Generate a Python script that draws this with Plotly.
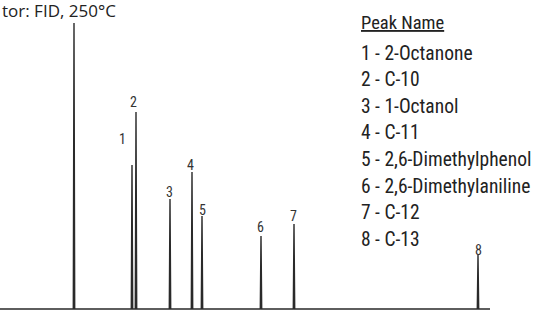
import plotly.graph_objects as go

# ---- data ----
peak_ids = ["S", "1", "2", "3", "4", "5", "6", "7", "8"]
ret_times = [1.48, 2.64, 2.72, 3.40, 3.84, 4.04, 5.22, 5.88, 9.56]   # min
heights = [286, 144, 197, 110, 137, 93, 73, 85, 54]                  # response
run_end = 9.8
peak_names = ["1 - 2-Octanone", "2 - C-10", "3 - 1-Octanol", "4 - C-11",
              "5 - 2,6-Dimethylphenol", "6 - 2,6-Dimethylaniline",
              "7 - C-12", "8 - C-13"]
title_text = "tor: FID, 250°C"

W, H = 533, 312
X_RANGE = [0, 10.66]
Y_RANGE = [-3, 309]
HALF_W = 0.014

# build chromatogram trace from peak list
xs, ys = [0.0], [0.0]
for t, h in zip(ret_times, heights):
    xs += [t - HALF_W, t, t + HALF_W]
    ys += [0.0, h, 0.0]
xs.append(run_end)
ys.append(0.0)

fig = go.Figure()
fig.add_trace(go.Scatter(x=xs, y=ys, mode="lines",
                         line=dict(color="#2a2a2a", width=1.4),
                         hoverinfo="skip", showlegend=False))

FONT = "Roboto Condensed, Liberation Sans Narrow, Roboto, sans-serif"

# peak number labels
label_offsets = {"1": (-0.2, 26), "2": (-0.06, 10), "3": (-0.02, 7),
                 "4": (-0.04, 7), "5": (0.0, 6), "6": (-0.02, 9),
                 "7": (-0.02, 8), "8": (0.0, 5)}
for pid, t, h in zip(peak_ids, ret_times, heights):
    if pid == "S":
        continue
    dx, dy = label_offsets[pid]
    fig.add_annotation(x=t + dx, y=h + dy, xref="x", yref="y", text=pid,
                       showarrow=False, xanchor="center", yanchor="middle",
                       font=dict(family=FONT, size=14, color="#333"))

# peak name table
TX = 359
fig.add_annotation(x=TX / W, y=1 - 23 / H, xref="paper", yref="paper",
                   text="<u>Peak Name</u>", showarrow=False,
                   xanchor="left", yanchor="middle",
                   font=dict(family=FONT, size=18.5, color="#222"))
for i, name in enumerate(peak_names):
    fig.add_annotation(x=TX / W, y=1 - (53 + 26.6 * i) / H,
                       xref="paper", yref="paper", text=name,
                       showarrow=False, xanchor="left", yanchor="middle",
                       font=dict(family=FONT, size=19.5, color="#222"))

# detector note (its start is cropped in the original)
fig.add_annotation(x=0, y=1 - 10 / H, xref="paper", yref="paper",
                   text=title_text, showarrow=False,
                   xanchor="left", yanchor="middle",
                   font=dict(family="Open Sans, sans-serif", size=17, color="#222"))

fig.update_layout(
    width=W, height=H,
    margin=dict(l=0, r=0, t=0, b=0),
    paper_bgcolor="white", plot_bgcolor="white",
    xaxis=dict(range=X_RANGE, visible=False, fixedrange=True),
    yaxis=dict(range=Y_RANGE, visible=False, fixedrange=True),
)

fig.write_html("out.html",
               config={"displayModeBar": False, "staticPlot": True},
               post_script="document.body.style.margin='0px';")
